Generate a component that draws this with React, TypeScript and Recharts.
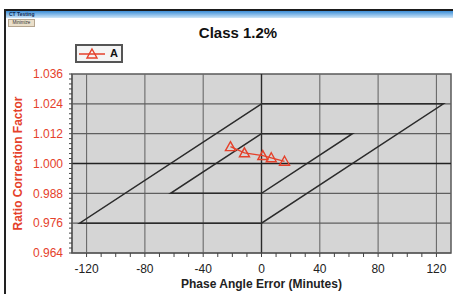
import React from 'react';
import { ComposedChart, Line, XAxis, YAxis, ReferenceLine, ReferenceArea, Legend } from 'recharts';

// Measured test points (series "A")
const phaseAngleA = [-21.3, -11.7, 0.9, 6.7, 15.8];
const ratioCFA = [1.0068, 1.0043, 1.0032, 1.0023, 1.0009];

// Class 1.2 limit parallelograms (100% and 10% rated current)
const inner100X = [0, 62.4, 0, -62.4, 0];
const inner100Y = [1.012, 1.012, 0.988, 0.988, 1.012];
const outer10X = [0, 124.8, 0, -124.8, 0];
const outer10Y = [1.024, 1.024, 0.976, 0.976, 1.024];

// Axes
const xDomain = [-130, 130];
const yDomain = [0.964, 1.036];
const xMajorTicks = [-120, -80, -40, 0, 40, 80, 120];
const yMajorTicks = [0.964, 0.976, 0.988, 1.0, 1.012, 1.024, 1.036];
const yTickLabels = ['0.964', '0.976', '0.988', '1.000', '1.012', '1.024', '1.036'];
const xMinorStep = 10;
const yMinorStep = 0.002;

const seriesA = phaseAngleA.map((x, i) => ({ x, y: ratioCFA[i] }));
const inner100 = inner100X.map((x, i) => ({ x, y: inner100Y[i] }));
const outer10 = outer10X.map((x, i) => ({ x, y: outer10Y[i] }));

const xMinorTicks: number[] = [];
for (let v = xMajorTicks[0]; v <= xMajorTicks[xMajorTicks.length - 1] + 1e-9; v += xMinorStep) xMinorTicks.push(Math.round(v * 1000) / 1000);
const yMinorTicks: number[] = [];
for (let v = yDomain[0]; v <= yDomain[1] + 1e-9; v += yMinorStep) yMinorTicks.push(Math.round(v * 100000) / 100000);

const RED = '#e5412b';
const FONT = '"Liberation Sans", Arial, sans-serif';

const Tri = (props: any) => {
  const { cx, cy } = props;
  if (cx == null || cy == null) return null;
  return (
    <path
      d={`M${cx},${cy - 5} L${cx + 5},${cy + 4} L${cx - 5},${cy + 4} Z`}
      fill="none"
      stroke={RED}
      strokeWidth={1.4}
    />
  );
};

const XTick = (props: any) => {
  const { x, y, payload } = props;
  const v = payload.value;
  const idx = xMajorTicks.findIndex((m) => Math.abs(m - v) < 1e-6);
  if (idx < 0) return null;
  return (
    <text x={x} y={y} dy="0.71em" textAnchor="middle" fill="#222" fontSize={12} fontFamily={FONT}>
      {String(xMajorTicks[idx])}
    </text>
  );
};

const YTick = (props: any) => {
  const { x, y, payload } = props;
  const v = payload.value;
  const idx = yMajorTicks.findIndex((m) => Math.abs(m - v) < 1e-7);
  if (idx < 0) return null;
  return (
    <text x={x} y={y} dy="0.36em" textAnchor="end" fill={RED} fontSize={12} fontFamily={FONT}>
      {yTickLabels[idx]}
    </text>
  );
};

const LegendBox = () => (
  <div
    style={{
      width: 48,
      height: 19,
      boxSizing: 'border-box',
      border: '2px solid #555',
      background: '#f4f4f4',
      position: 'relative',
      fontFamily: FONT,
    }}
  >
    <svg width={30} height={15} style={{ position: 'absolute', left: 1, top: 0 }}>
      <line x1={1} y1={8} x2={27} y2={8} stroke={RED} strokeWidth={1.5} />
      <path d="M14,3 L19,12 L9,12 Z" fill="none" stroke={RED} strokeWidth={1.4} />
    </svg>
    <span style={{ position: 'absolute', left: 33, top: 1, fontSize: 11, fontWeight: 'bold', color: '#111' }}>A</span>
  </div>
);

export default function App() {
  return (
    <div
      style={{
        position: 'absolute',
        left: 0,
        top: 0,
        width: 453,
        height: 294,
        background: '#ffffff',
        overflow: 'hidden',
        fontFamily: FONT,
      }}
    >
      {/* window chrome */}
      <div style={{ position: 'absolute', left: 4, top: 9, width: 449, height: 2, background: '#1b1b1b' }} />
      <div style={{ position: 'absolute', left: 4, top: 9, width: 2, height: 285, background: '#222' }} />
      <div
        style={{
          position: 'absolute',
          left: 6,
          top: 11,
          width: 447,
          height: 7,
          background: 'linear-gradient(to bottom, #3d8fd8, #cfe6f8)',
        }}
      />
      <div style={{ position: 'absolute', left: 9, top: 11, fontSize: 5, fontWeight: 'bold', color: '#0d2a55', lineHeight: '7px' }}>
        CT Testing
      </div>
      <div
        style={{
          position: 'absolute',
          left: 8,
          top: 19,
          width: 27,
          height: 8,
          boxSizing: 'border-box',
          background: '#eadfca',
          border: '1px solid #b5a58f',
          fontSize: 4.5,
          lineHeight: '6px',
          color: '#333',
          textAlign: 'center',
        }}
      >
        Minimize
      </div>
      <div
        style={{
          position: 'absolute',
          left: 0,
          width: 476,
          top: 24,
          textAlign: 'center',
          fontSize: 15,
          fontWeight: 'bold',
          color: '#111',
        }}
      >
        Class 1.2%
      </div>

      <ComposedChart width={453} height={294} margin={{ top: 74, right: 2, bottom: 11, left: 0 }} style={{ position: 'absolute', left: 0, top: 0 }}>
        <ReferenceArea
          x1={xDomain[0]}
          x2={xDomain[1]}
          y1={yDomain[0]}
          y2={yDomain[1]}
          fill="#d5d5d5"
          fillOpacity={1}
          stroke="#5a5a5a"
          strokeWidth={1.5}
        />
        {xMajorTicks.map((v) => (
          <ReferenceLine key={'vx' + v} x={v} stroke={v === 0 ? '#2a2a2a' : '#6a6a6a'} strokeWidth={v === 0 ? 1.4 : 1.1} />
        ))}
        {yMajorTicks.slice(1, -1).map((v) => (
          <ReferenceLine key={'hy' + v} y={v} stroke={v === 1 ? '#222' : '#5f5f5f'} strokeWidth={v === 1 ? 1.6 : 1.3} />
        ))}
        <XAxis
          type="number"
          dataKey="x"
          domain={xDomain}
          allowDataOverflow
          ticks={xMinorTicks}
          interval={0}
          tick={<XTick />}
          tickSize={4}
          tickMargin={7}
          tickLine={{ stroke: '#444' }}
          axisLine={{ stroke: '#555' }}
          height={30}
          label={{
            value: 'Phase Angle Error (Minutes)',
            position: 'bottom',
            offset: -4,
            style: { fontSize: 12, fontWeight: 'bold', fill: '#222', fontFamily: FONT },
          }}
        />
        <YAxis
          type="number"
          dataKey="y"
          domain={yDomain}
          allowDataOverflow
          ticks={yMinorTicks}
          interval={0}
          tick={<YTick />}
          tickSize={3}
          tickMargin={6}
          tickLine={{ stroke: '#444' }}
          axisLine={{ stroke: '#555' }}
          width={72}
          label={{
            value: 'Ratio Correction Factor',
            angle: -90,
            position: 'insideLeft',
            offset: 18,
            style: { textAnchor: 'middle', fontSize: 12, fontWeight: 'bold', fill: RED, fontFamily: FONT },
          }}
        />
        <Line
          data={outer10}
          dataKey="y"
          type="linear"
          stroke="#2b2b2b"
          strokeWidth={1.5}
          dot={false}
          activeDot={false}
          legendType="none"
          isAnimationActive={false}
        />
        <Line
          data={inner100}
          dataKey="y"
          type="linear"
          stroke="#2b2b2b"
          strokeWidth={1.5}
          dot={false}
          activeDot={false}
          legendType="none"
          isAnimationActive={false}
        />
        <Line
          data={seriesA}
          dataKey="y"
          name="A"
          type="linear"
          stroke={RED}
          strokeWidth={1.3}
          dot={<Tri />}
          activeDot={false}
          isAnimationActive={false}
        />
        <Legend
          layout="vertical"
          align="center"
          verticalAlign="middle"
          content={<LegendBox />}
          wrapperStyle={{ left: 75, top: 44, width: 48, height: 19, margin: 0 }}
        />
      </ComposedChart>
    </div>
  );
}
